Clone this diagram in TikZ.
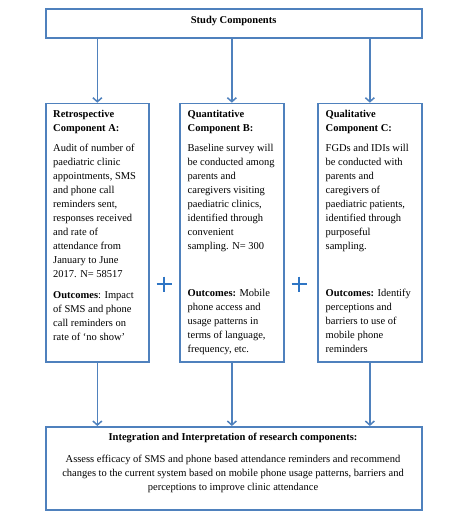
\documentclass[tikz,border=0pt]{standalone}
\usepackage{fontspec}
\setmainfont{Liberation Serif}
\usetikzlibrary{arrows.meta,calc}
\definecolor{lineblue}{HTML}{4F81BD}
\definecolor{plusblue}{HTML}{2F75C4}
\tikzset{
  box/.style={draw=lineblue, line width=1.8pt, inner sep=0pt, anchor=north west},
  txt/.style={inner sep=0pt, anchor=north west, align=left, font=\fontsize{10.5}{14}\selectfont},
  conn/.style={draw=lineblue, line width=1.5pt, -{Straight Barb[length=4pt,width=9pt,line width=1.5pt]}},
  plusmark/.style={draw=plusblue, line width=1.8pt}
}
\begin{document}
\begin{tikzpicture}[x=1pt,y=-1pt]
\useasboundingbox[fill=white] (0,0) rectangle (474,526);
% top box
\node[box, minimum width=376pt, minimum height=28.5pt, text height=7pt, text depth=7pt,
      font=\fontsize{10.5}{14}\selectfont\bfseries] (top) at (44.7,8.3) {Study Components};
% component boxes
\node[box, minimum width=103.5pt, minimum height=258pt] (boxA) at (44.7,102.7) {};
\node[box, minimum width=103.5pt, minimum height=258pt] (boxB) at (179.2,102.7) {};
\node[box, minimum width=103.5pt, minimum height=258pt] (boxC) at (317.2,102.7) {};
% bottom box
\node[box, minimum width=376pt, minimum height=83pt] (bottom) at (44.7,426) {};
% texts
\node[txt] (tA) at (53,110.3) {\textbf{Retrospective}\\\textbf{Component A:}\\[6pt]Audit of number of\\paediatric clinic\\appointments, SMS\\and phone call\\reminders sent,\\responses received\\and rate of\\attendance from\\January to June\\2017. N= 58517};
\node[txt] (oA) at (53,291.3) {\textbf{Outcomes}: Impact\\of SMS and phone\\call reminders on\\rate of `no show'};
\node[txt] (tB) at (187.5,110.3) {\textbf{Quantitative}\\\textbf{Component B:}\\[6pt]Baseline survey will\\be conducted among\\parents and\\caregivers visiting\\paediatric clinics,\\identified through\\convenient\\sampling. N= 300};
\node[txt] (oB) at (187.5,289.3) {\textbf{Outcomes:} Mobile\\phone access and\\usage patterns in\\terms of language,\\frequency, etc.};
\node[txt] (tC) at (325.5,110.3) {\textbf{Qualitative}\\\textbf{Component C:}\\[6pt]FGDs and IDIs will\\be conducted with\\parents and\\caregivers of\\paediatric patients,\\identified through\\purposeful\\sampling.};
\node[txt] (oC) at (325.5,289.3) {\textbf{Outcomes:} Identify\\perceptions and\\barriers to use of\\mobile phone\\reminders};
\node[txt, anchor=north, align=center] (tI) at (233,433.3) {\textbf{Integration and Interpretation of research components:}\\[8pt]Assess efficacy of SMS and phone based attendance reminders and recommend\\changes to the current system based on mobile phone usage patterns, barriers and\\perceptions to improve clinic attendance};
% connectors
\foreach \b in {boxA,boxB,boxC}{
  \draw[conn] (\b.north |- top.south) -- (\b.north);
  \draw[conn] (\b.south) -- (\b.south |- bottom.north);
}
% plus signs
\coordinate (plus1) at (164,284);
\coordinate (plus2) at (299,284);
\foreach \p in {plus1,plus2}{
  \draw[plusmark] ($(\p)+(0,-7.5)$) -- ($(\p)+(0,7.5)$) ($(\p)+(-7.5,0)$) -- ($(\p)+(7.5,0)$);
}
\end{tikzpicture}
\end{document}
